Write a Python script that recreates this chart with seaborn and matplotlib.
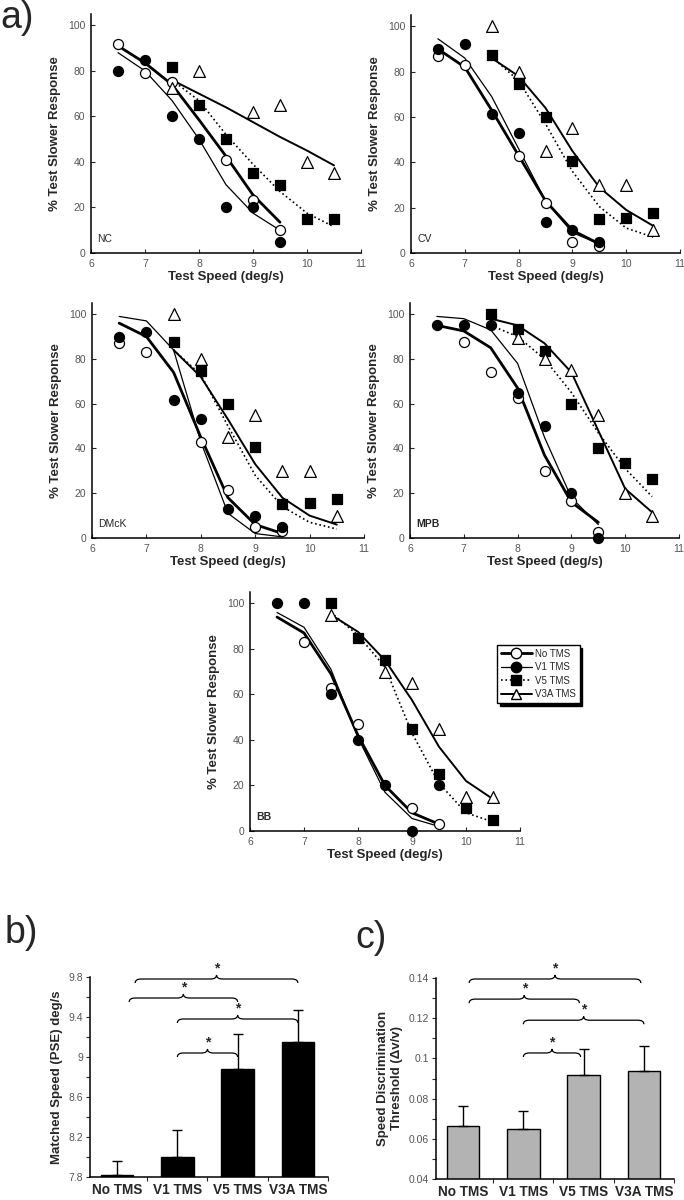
import numpy as np
import pandas as pd
import matplotlib
matplotlib.use("Agg")
import matplotlib.pyplot as plt
import seaborn as sns
from matplotlib.path import Path
from matplotlib.patches import PathPatch
from matplotlib.lines import Line2D
from matplotlib.ticker import AutoMinorLocator

nan = np.nan

# test speeds (deg/s)
speeds_lo = [6.5, 7.0, 7.5, 8.0, 8.5, 9.0, 9.5]     # No TMS / V1 TMS
speeds_hi = [7.5, 8.0, 8.5, 9.0, 9.5, 10.0, 10.5]   # V5 TMS / V3A TMS
conditions = ["No TMS", "V1 TMS", "V5 TMS", "V3A TMS"]

# % test slower response, measured points: No, V1, V5, V3A
nc_pts = [[92, 79, 75, nan, 41, 23.5, 10],
          [80, 85, 60, 50, 20, 20, 5],
          [81.5, 65, 50, 35, 30, 15, 15],
          [72.5, 80, nan, 62, 65, 40, 35]]
cv_pts = [[87, 83, nan, 43, 22, 5, 3],
          [90, 92, 61.5, 53, 13.5, 10, 5],
          [87.5, 74.5, 60, 40.5, 15, 15.5, 17.5],
          [100, 80, 45, 55, 30, 30, 10]]
dmck_pts = [[87, 83, nan, 43, 21.5, 5, 3],
            [90, 92, 61.5, 53, 13, 10, 5],
            [87.5, 74.5, 60, 40.5, 15, 15.5, 17.5],
            [100, 80, 45, 55, 30, 30, 10]]
mpb_pts = [[nan, 87.5, 74, 62.5, 30, 16.5, 2.5],
           [95, 95, 95, 65, 50, 20, 0],
           [100, 93.5, 83.5, 60, 40, 33.5, 26.5],
           [nan, 89.5, 80, 75, 55, 20, 10]]
bb_pts = [[nan, 83, 63, 47, nan, 10, 3],
          [100, 100, 60, 40, 20, 0, 20],
          [100, 85, 75, 45, 25, 10, 5],
          [95, nan, 70, 65, 45, 15, 15]]

# fitted curves (same speeds as above)
nc_fit = [[91, 83.5, 74, 58.5, 42.5, 25.5, 13.5],
          [88, 80, 67, 50, 30, 17.5, 10],
          [76, 67, 52, 39, 27, 17.5, 11.5],
          [76, 70, 64, 57.5, 51, 45, 38.5]]
cv_fit = [[90, 82, 63, 43, 23, 10, 4],
          [94.5, 86, 69, 46, 23, 9, 4],
          [86.5, 76, 57, 36, 20.5, 11, 7],
          [86, 78, 64, 45, 29, 19, 12]]
dmck_fit = [[96, 90, 74, 45, 18, 6, 2],
            [99, 97, 84, 43, 11, 2, 0.5],
            [84, 73, 50, 28, 14, 7, 4],
            [84, 72, 53, 33, 18, 10, 6]]
mpb_fit = [[95, 92.5, 85, 67, 37, 16, 7],
           [99, 98, 93, 78, 45, 18, 6],
           [95, 90, 80, 65, 47, 31, 18.5],
           [98, 95, 87, 74, 48, 22, 11.5]]
bb_fit = [[94, 87, 69, 42, 20, 8, 3],
          [96, 89.5, 71, 41, 17, 5.5, 2],
          [96, 86, 72, 43, 21, 8, 4],
          [95, 87.5, 75, 57.5, 37, 22, 14]]

# bar panels
pse_mean = [7.817, 8.0, 8.88, 9.155]
pse_err = [0.14, 0.273, 0.347, 0.318]
thr_mean = [0.0665, 0.065, 0.0918, 0.0935]
thr_err = [0.0098, 0.0086, 0.0131, 0.0125]
pse_ticks = [7.8, 8.2, 8.6, 9.0, 9.4, 9.8]
pse_ticklabels = ["7.8", "8.2", "8.6", "9", "9.4", "9.8"]
thr_ticks = [0.04, 0.06, 0.08, 0.10, 0.12, 0.14]
thr_ticklabels = ["0.04", "0.06", "0.08", "0.1", "0.12", "0.14"]
# significance braces: (from bar, to bar, height)
pse_braces = [(0.3, 3.0, 9.78), (0.2, 2.0, 9.59), (1.0, 3.0, 9.38), (1.0, 2.0, 9.04)]
thr_braces = [(0.1, 2.95, 0.1395), (0.1, 1.93, 0.1295), (1.0, 3.0, 0.119), (1.0, 1.95, 0.1027)]

sns.set_style("ticks")
plt.rcParams["font.family"] = ["Liberation Sans", "DejaVu Sans"]
GREY = "#555555"

styles = {
    "No TMS": dict(marker="o", face="white", lw=2.0, ls="-", s=52),
    "V1 TMS": dict(marker="o", face="black", lw=0.9, ls="-", s=52),
    "V5 TMS": dict(marker="s", face="black", lw=1.2, ls=":", s=58),
    "V3A TMS": dict(marker="^", face="white", lw=1.4, ls="-", s=72),
}

fig = plt.figure(figsize=(6.84, 12), dpi=100)


def px_axes(left, right, bottom, top):
    W, H = 684, 1200
    return fig.add_axes([left / W, 1 - bottom / H, (right - left) / W, (bottom - top) / H])


def psych_panel(ax, name, pts, fits, bold_name):
    for i, cond in enumerate(conditions):
        st = styles[cond]
        xs = speeds_lo if i < 2 else speeds_hi
        df = pd.DataFrame({"speed": xs, "fit": fits[i], "pct": pts[i]})
        sns.lineplot(data=df, x="speed", y="fit", color="black", lw=st["lw"],
                     linestyle=st["ls"], ax=ax, zorder=2)
        sns.scatterplot(data=df.dropna(), x="speed", y="pct", marker=st["marker"],
                        s=st["s"], color=st["face"], edgecolor="black", linewidth=0.9,
                        ax=ax, zorder=3, clip_on=False)
    ax.set_xlim(6, 11)
    ax.set_ylim(0, 105)
    ax.set_xticks([6, 7, 8, 9, 10, 11])
    ax.set_yticks([0, 20, 40, 60, 80, 100])
    ax.tick_params(direction="in", length=3, width=0.8, labelsize=7.5,
                   labelcolor=GREY, pad=4)
    ax.set_xlabel("Test Speed (deg/s)", fontsize=9.5, fontweight="bold", labelpad=2)
    ax.set_ylabel("% Test Slower Response", fontsize=9.5, fontweight="bold", labelpad=5)
    for sp in ["top", "right"]:
        ax.spines[sp].set_visible(False)
    for sp in ["left", "bottom"]:
        ax.spines[sp].set_linewidth(1.1)
        ax.spines[sp].set_color("black")
    ax.text(6.12, 4, name, fontsize=7.5, fontweight="bold" if bold_name else "normal",
            ha="left", va="bottom")


def brace(ax, x0, x1, y, dx, h):
    xm = (x0 + x1) / 2
    verts = [(x0, y - h), (x0, y), (x0 + dx, y), (xm - dx, y), (xm, y), (xm, y + h),
             (xm, y), (xm + dx, y), (x1 - dx, y), (x1, y), (x1, y - h)]
    codes = [Path.MOVETO, Path.CURVE3, Path.CURVE3, Path.LINETO, Path.CURVE3, Path.CURVE3,
             Path.CURVE3, Path.CURVE3, Path.LINETO, Path.CURVE3, Path.CURVE3]
    ax.add_patch(PathPatch(Path(verts, codes), fill=False, lw=0.9, color="black",
                           clip_on=False))
    return xm


def bar_panel(ax, means, errs, color, ticks, ticklabels, braces, dy, ylabel):
    sns.barplot(x=conditions, y=means, color=color, saturation=1, width=0.54,
                edgecolor="black", linewidth=1, errorbar=None, ax=ax)
    ax.errorbar(range(4), means, yerr=[np.zeros(4), errs], fmt="none",
                ecolor="black", elinewidth=1, capsize=3.5, capthick=1, zorder=3)
    ax.set_ylim(ticks[0], ticks[-1])
    ax.set_xlim(-0.45, 3.5)
    ax.set_yticks(ticks)
    ax.set_yticklabels(ticklabels)
    ax.yaxis.set_minor_locator(AutoMinorLocator(2))
    ax.set_xticks([0.5, 1.5, 2.5, 3.5], minor=True)
    ax.tick_params(axis="y", which="both", direction="out", length=3, width=0.8,
                   labelsize=7.5, labelcolor=GREY, pad=2)
    ax.tick_params(axis="x", which="major", length=0, labelsize=9.8, pad=4)
    ax.tick_params(axis="x", which="minor", direction="out", length=3, width=0.8)
    for lab in ax.get_xticklabels():
        lab.set_fontweight("bold")
    ax.set_ylabel(ylabel, fontsize=9.5, fontweight="bold", labelpad=4)
    ax.set_xlabel("")
    for sp in ["top", "right"]:
        ax.spines[sp].set_visible(False)
    for sp in ["left", "bottom"]:
        ax.spines[sp].set_linewidth(1.1)
        ax.spines[sp].set_color("black")
    for x0, x1, y in braces:
        xm = brace(ax, x0, x1, y, 0.1, dy)
        ax.text(xm, y + 2.6 * dy, "*", fontsize=10, fontweight="bold",
                ha="center", va="center", clip_on=False)


psych_panel(px_axes(91, 361, 253, 14), "NC", nc_pts, nc_fit, False)
psych_panel(px_axes(411, 680, 253, 15), "CV", cv_pts, cv_fit, False)
psych_panel(px_axes(92, 364, 538, 303), "DMcK", dmck_pts, dmck_fit, False)
psych_panel(px_axes(410, 679, 538, 303), "MPB", mpb_pts, mpb_fit, True)
psych_panel(px_axes(250, 520, 831, 592), "BB", bb_pts, bb_fit, True)

handles = []
for cond in conditions:
    st = styles[cond]
    handles.append(Line2D([], [], color="black", lw=st["lw"], ls=st["ls"],
                          marker=st["marker"], markersize=7.5, markerfacecolor=st["face"],
                          markeredgecolor="black"))
fig.legend(handles, conditions, loc="upper left", bbox_to_anchor=(492 / 684, 1 - 640 / 1200),
           fontsize=7, frameon=True, fancybox=False, edgecolor="black", framealpha=1,
           shadow={"color": "black", "alpha": 1, "ox": 2, "oy": -2},
           handlelength=3.2, borderpad=0.4, labelspacing=0.35, handletextpad=0.3)

ax_b = px_axes(90, 328, 1177, 977)
bar_panel(ax_b, pse_mean, pse_err, "black", pse_ticks, pse_ticklabels, pse_braces, 0.04,
          "Matched Speed (PSE) deg/s")
ax_c = px_axes(436, 674, 1179, 978)
bar_panel(ax_c, thr_mean, thr_err, "#b3b3b3", thr_ticks, thr_ticklabels, thr_braces, 0.002,
          "Speed Discrimination\nThreshold (\u0394v/v)")

fig.text(0.0, 1.0, "a)", fontsize=27, ha="left", va="top")
fig.text(5 / 684, 1 - 915 / 1200, "b)", fontsize=27, ha="left", va="top")
fig.text(355 / 684, 1 - 920 / 1200, "c)", fontsize=27, ha="left", va="top")

fig.savefig("out.png", dpi=100, facecolor="white")
